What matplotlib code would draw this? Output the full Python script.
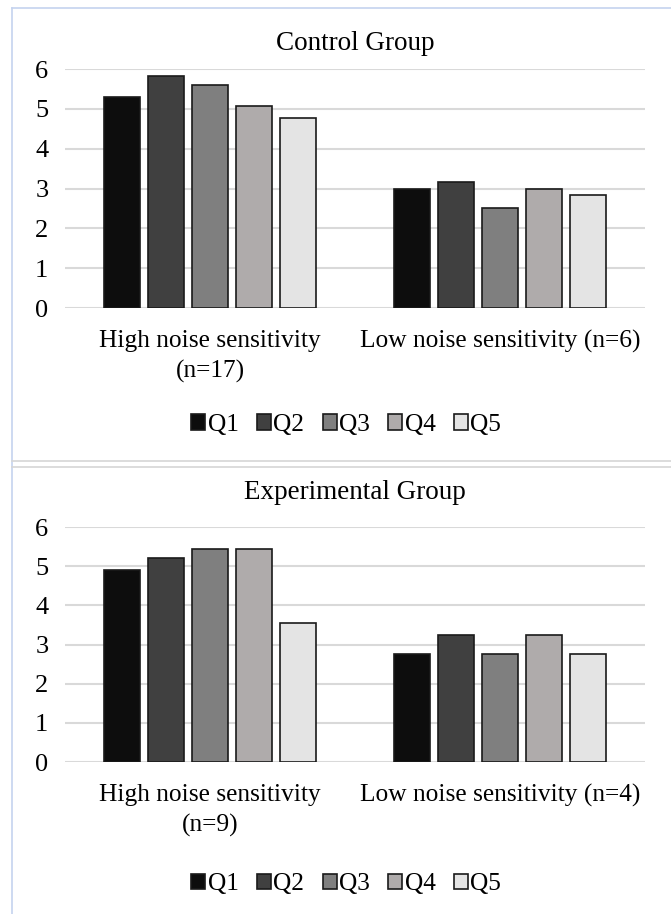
import matplotlib
matplotlib.use("Agg")
import matplotlib.pyplot as plt
from matplotlib.lines import Line2D
import numpy as np

plt.rcParams['font.family'] = ['Liberation Serif', 'DejaVu Serif']

questions = ['Q1', 'Q2', 'Q3', 'Q4', 'Q5']
colors = ['#0d0d0d', '#404040', '#7f7f7f', '#afabab', '#e4e4e4']

control_labels = ['High noise sensitivity\n(n=17)', 'Low noise sensitivity (n=6)']
control_high = [5.29, 5.82, 5.59, 5.06, 4.76]
control_low = [3.00, 3.17, 2.50, 3.00, 2.83]

exp_labels = ['High noise sensitivity\n(n=9)', 'Low noise sensitivity (n=4)']
exp_high = [4.89, 5.22, 5.44, 5.44, 3.56]
exp_low = [2.75, 3.25, 2.75, 3.25, 2.75]

fig = plt.figure(figsize=(6.71, 9.14), dpi=100)

# panel frame lines
fig.add_artist(Line2D([0.018, 1.0], [0.991, 0.991], color='#c5d3ef', lw=1.2))
fig.add_artist(Line2D([0.018, 0.018], [0.0, 0.991], color='#c5d3ef', lw=1.2))
fig.add_artist(Line2D([0.018, 1.0], [0.496, 0.496], color='#d6d6d6', lw=1.2))
fig.add_artist(Line2D([0.018, 1.0], [0.489, 0.489], color='#d6d6d6', lw=1.2))


def draw_panel(rect, title, labels, high, low, legend_y, title_pad):
    ax = fig.add_axes(rect)
    x = np.arange(len(labels))
    width = 0.124
    step = 0.152
    for i, q in enumerate(questions):
        offs = (i - 2) * step
        ax.bar(x + offs, [high[i], low[i]], width, color=colors[i],
               edgecolor='#1a1a1a', linewidth=1.2, label=q, zorder=3)
    ax.set_xlim(-0.5, 1.5)
    ax.set_ylim(0, 6)
    ax.set_yticks(range(0, 7))
    ax.yaxis.grid(True, color='#d9d9d9', linewidth=1.5, zorder=0)
    ax.set_axisbelow(True)
    for s in ax.spines.values():
        s.set_visible(False)
    ax.tick_params(axis='y', length=0, labelsize=19, pad=12)
    ax.set_xticks(x)
    ax.set_xticklabels(labels, fontsize=18.3, linespacing=1.45)
    ax.tick_params(axis='x', length=0, pad=16)
    ax.set_title(title, fontsize=19.5, pad=title_pad)
    ax.legend(loc='center', bbox_to_anchor=(0.485, legend_y), ncol=5,
              frameon=False, fontsize=18.3, handlelength=0.55, handleheight=0.55,
              handletextpad=0.1, columnspacing=0.72)
    return ax


draw_panel([0.097, 0.663, 0.864, 0.2615], 'Control Group',
           control_labels, control_high, control_low, -0.49, 14)
draw_panel([0.097, 0.1663, 0.864, 0.2571], 'Experimental Group',
           exp_labels, exp_high, exp_low, -0.52, 20)

fig.savefig('out.png', dpi=100)
